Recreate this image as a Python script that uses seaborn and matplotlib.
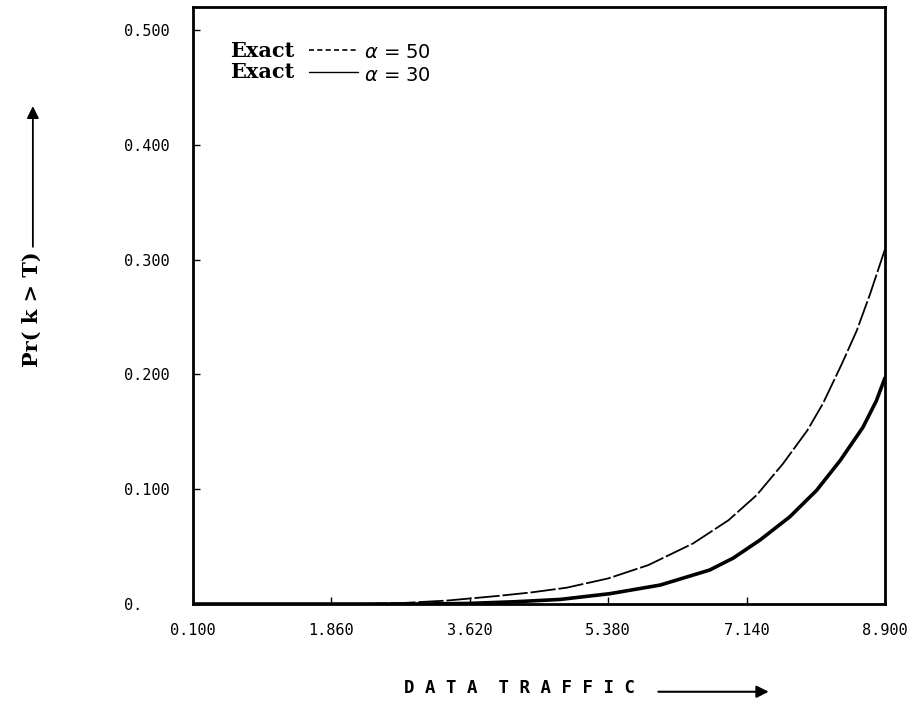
import matplotlib
matplotlib.use('Agg')
import matplotlib.pyplot as plt
import seaborn as sns
import pandas as pd

# values
x_alpha50 = [0.1, 2.2, 2.8, 3.33, 3.97, 4.39, 4.85, 5.38, 5.89, 6.46, 6.91,
             7.27, 7.60, 7.91, 8.11, 8.35, 8.54, 8.71, 8.9]
y_alpha50 = [0.0, 0.0, 0.001, 0.003, 0.007, 0.010, 0.0142, 0.0223, 0.0339, 0.0528, 0.073,
             0.095, 0.122, 0.151, 0.1745, 0.209, 0.238, 0.270, 0.309]
x_alpha30 = [0.1, 3.0, 3.6, 4.2, 4.77, 5.40, 6.04, 6.67, 6.97, 7.31, 7.69,
             8.03, 8.33, 8.62, 8.79, 8.9]
y_alpha30 = [0.0, 0.0, 0.0005, 0.002, 0.004, 0.009, 0.0165, 0.0296, 0.040, 0.0557, 0.076,
             0.099, 0.125, 0.154, 0.177, 0.197]
x_ticks = [0.1, 1.86, 3.62, 5.38, 7.14, 8.9]
x_tick_labels = ['0.100', '1.860', '3.620', '5.380', '7.140', '8.900']
y_ticks = [0.0, 0.1, 0.2, 0.3, 0.4, 0.5]
y_tick_labels = ['0.', '0.100', '0.200', '0.300', '0.400', '0.500']


def main():
    sns.set_style('ticks')
    plt.rcParams['font.family'] = ['DejaVu Sans']
    plt.rcParams['mathtext.fontset'] = 'dejavusans'

    df50 = pd.DataFrame({'x': x_alpha50, 'y': y_alpha50})
    df30 = pd.DataFrame({'x': x_alpha30, 'y': y_alpha30})

    fig = plt.figure(figsize=(9.13, 7.03), dpi=100)
    ax = fig.add_axes([0.2114, 0.1408, 0.7579, 0.849])

    sns.lineplot(data=df50, x='x', y='y', ax=ax, color='black', linewidth=1.3,
                 linestyle=(0, (14, 1.6)))
    sns.lineplot(data=df30, x='x', y='y', ax=ax, color='black', linewidth=2.6)

    ax.set_xlim(0.1, 8.9)
    ax.set_ylim(0.0, 0.52)
    ax.set_xticks(x_ticks)
    ax.set_xticklabels(x_tick_labels)
    ax.set_yticks(y_ticks)
    ax.set_yticklabels(y_tick_labels)
    ax.tick_params(direction='in', length=5, width=1, labelsize=11, pad=14,
                   colors='black')
    for lab in ax.get_xticklabels() + ax.get_yticklabels():
        lab.set_family('DejaVu Sans Mono')
    ax.tick_params(axis='y', pad=50)
    for lab in ax.get_yticklabels():
        lab.set_horizontalalignment('left')
    for sp in ax.spines.values():
        sp.set_visible(True)
        sp.set_linewidth(2)
        sp.set_color('black')
    ax.set_xlabel('')
    ax.set_ylabel('')

    # legend drawn as text and short line samples
    serif = {'family': 'DejaVu Serif', 'weight': 'bold', 'size': 15, 'color': 'black'}
    fig.text(0.252, 0.928, 'Exact', fontdict=serif, va='center')
    fig.text(0.252, 0.897, 'Exact', fontdict=serif, va='center')
    fig.lines.append(plt.Line2D([0.338, 0.392], [0.929, 0.929], transform=fig.transFigure,
                                color='black', linewidth=1.2, linestyle=(0, (3, 2))))
    fig.lines.append(plt.Line2D([0.338, 0.392], [0.898, 0.898], transform=fig.transFigure,
                                color='black', linewidth=1.0))
    fig.text(0.399, 0.926, r'$\alpha$ = 50', fontsize=14, va='center', color='black')
    fig.text(0.399, 0.893, r'$\alpha$ = 30', fontsize=14, va='center', color='black')

    # axis titles with arrows
    fig.text(0.035, 0.56, 'Pr( k > T)', rotation=90, va='center', ha='center',
             family='DejaVu Serif', weight='bold', fontsize=15, color='black')
    ax.annotate('', xy=(0.036, 0.853), xytext=(0.036, 0.645),
                xycoords='figure fraction', textcoords='figure fraction',
                arrowprops=dict(arrowstyle='-|>', color='black', lw=1.3, mutation_scale=18))
    fig.text(0.569, 0.009, 'D A T A  T R A F F I C', ha='center', va='bottom',
             family='DejaVu Sans Mono', weight='bold', fontsize=12.5, color='black')
    ax.annotate('', xy=(0.845, 0.016), xytext=(0.718, 0.016),
                xycoords='figure fraction', textcoords='figure fraction',
                arrowprops=dict(arrowstyle='-|>', color='black', lw=1.5, mutation_scale=18))

    fig.savefig('out.png', dpi=100)


if __name__ == '__main__':
    main()
